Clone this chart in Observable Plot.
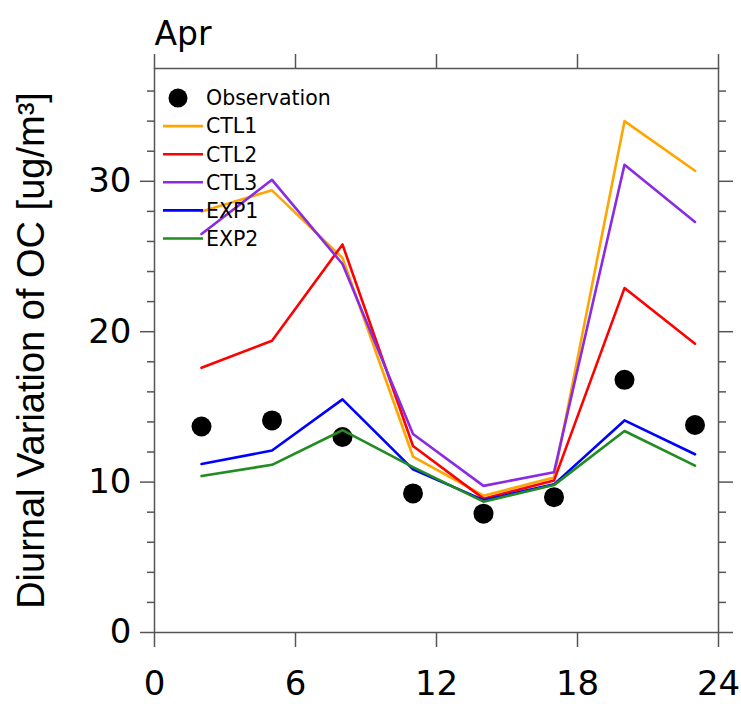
<!DOCTYPE html>
<html>
<head>
<meta charset="utf-8">
<script src="https://cdn.jsdelivr.net/npm/d3@7"></script>
<script src="https://cdn.jsdelivr.net/npm/@observablehq/plot@0.6"></script>
<style>
  body { margin: 0; background: #fff; }
  #wrap { position: relative; width: 741px; height: 704px; }
  #legend { position: absolute; left: 0; top: 0; pointer-events: none; }
</style>
</head>
<body>
<div id="wrap"></div>
<script>
// ---- data ----
const hours = [2, 5, 8, 11, 14, 17, 20, 23];
const observation = [13.7, 14.1, 13.0, 9.25, 7.9, 9.0, 16.8, 13.8];
const ctl1 = [28.0, 29.4, 24.9, 11.7, 9.1, 10.3, 34.0, 30.7];
const ctl2 = [17.6, 19.4, 25.8, 12.4, 8.9, 10.1, 22.9, 19.2];
const ctl3 = [26.5, 30.1, 24.5, 13.2, 9.75, 10.65, 31.1, 27.3];
const exp1 = [11.2, 12.1, 15.5, 10.85, 8.8, 9.85, 14.1, 11.85];
const exp2 = [10.4, 11.15, 13.45, 11.0, 8.7, 9.8, 13.4, 11.1];
const seriesNames = ["CTL1", "CTL2", "CTL3", "EXP1", "EXP2"];
const seriesColors = ["#FFA500", "#FF0000", "#8A2BE2", "#0000FF", "#228B22"];
const seriesValues = [ctl1, ctl2, ctl3, exp1, exp2];
const obsName = "Observation";
const xTicks = [0, 6, 12, 18, 24];
const yTicks = [0, 10, 20, 30];
const yMinorTicks = [2, 4, 6, 8, 12, 14, 16, 18, 22, 24, 26, 28, 32, 34, 36];
const title = "Apr";
const yLabel = "Diurnal Variation of OC [ug/m³]";

// ---- tables ----
const lineData = seriesNames.flatMap((name, i) =>
  hours.map((h, j) => ({series: name, hour: h, value: seriesValues[i][j]})));
const obsData = hours.map((h, j) => ({hour: h, value: observation[j]}));

const axisStroke = "#555";
const chart = Plot.plot({
  width: 741,
  height: 704,
  marginLeft: 154,
  marginRight: 23,
  marginTop: 68,
  marginBottom: 72,
  x: {domain: [0, 24]},
  y: {domain: [0, 37.5]},
  color: {type: "ordinal", domain: seriesNames, range: seriesColors},
  style: {fontFamily: "'DejaVu Sans', sans-serif", fontSize: "34px", color: "black", background: "white"},
  marks: [
    Plot.frame({stroke: axisStroke, strokeWidth: 1.5}),
    Plot.axisX({ticks: xTicks, tickSize: 15, tickPadding: 23, label: null, stroke: axisStroke, strokeWidth: 1.5, fill: "black"}),
    Plot.axisX({anchor: "top", ticks: xTicks, tickSize: 15, tickFormat: () => "", label: null, stroke: axisStroke, strokeWidth: 1.5}),
    Plot.axisY({ticks: yTicks, tickSize: 14, tickPadding: 9, label: null, stroke: axisStroke, strokeWidth: 1.5, fill: "black"}),
    Plot.axisY({ticks: yMinorTicks, tickSize: 7, tickFormat: () => "", label: null, stroke: axisStroke, strokeWidth: 1.5}),
    Plot.axisY({anchor: "right", ticks: yTicks, tickSize: 14, tickFormat: () => "", label: null, stroke: axisStroke, strokeWidth: 1.5}),
    Plot.axisY({anchor: "right", ticks: yMinorTicks, tickSize: 7, tickFormat: () => "", label: null, stroke: axisStroke, strokeWidth: 1.5}),
    Plot.dot(obsData, {x: "hour", y: "value", r: 10, fill: "black"}),
    Plot.line(lineData, {x: "hour", y: "value", z: "series", stroke: "series", strokeWidth: 2.6}),
    Plot.text([title], {text: d => d, frameAnchor: "top-left", textAnchor: "start", lineAnchor: "top",
      fontSize: 33, dy: -47, fill: "black"}),
    Plot.text([yLabel], {text: d => d, frameAnchor: "left", textAnchor: "middle", lineAnchor: "middle", rotate: -90, fontSize: 38,
      fontFamily: "'Liberation Sans', Arial, sans-serif", dx: -123, fill: "black"})
  ]
});
document.getElementById("wrap").appendChild(chart);

// ---- legend (inside plot area, upper left) ----
const lg = d3.select("#wrap").append("svg")
  .attr("id", "legend").attr("width", 741).attr("height", 704)
  .style("font-family", "'DejaVu Sans', sans-serif").style("font-size", "20.5px");
const rowY = i => 98 + i * 28.1;
lg.append("circle").attr("cx", 178).attr("cy", rowY(0)).attr("r", 9.5).attr("fill", "black");
lg.append("text").attr("x", 206).attr("y", rowY(0)).attr("dy", "0.36em").text(obsName);
seriesNames.forEach((name, i) => {
  const y = rowY(i + 1);
  lg.append("line").attr("x1", 163).attr("x2", 203).attr("y1", y).attr("y2", y)
    .attr("stroke", seriesColors[i]).attr("stroke-width", 2.6);
  lg.append("text").attr("x", 206).attr("y", y).attr("dy", "0.36em").text(name);
});
</script>
</body>
</html>
